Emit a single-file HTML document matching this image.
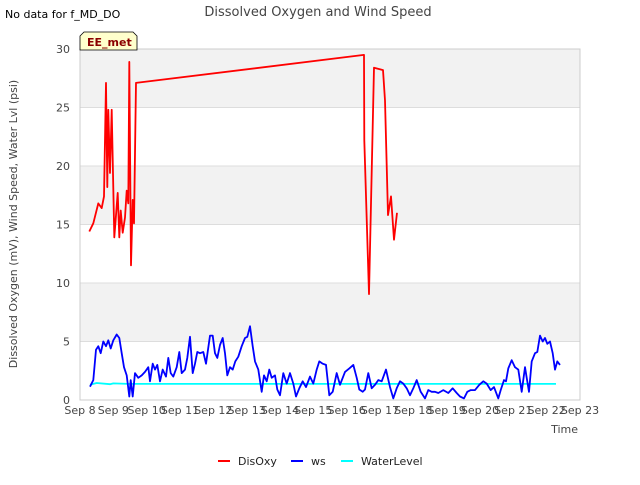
<!DOCTYPE html>
<html><head><meta charset="utf-8"><style>
body{margin:0;background:#fff;}
svg text{font-family:"DejaVu Sans","Liberation Sans",sans-serif;}
</style></head><body>
<svg id="chart" width="640" height="480" xmlns="http://www.w3.org/2000/svg">
<text x="5" y="18" font-size="11" fill="#000">No data for f_MD_DO</text>
<text x="318" y="16" font-size="13" fill="#444" text-anchor="middle">Dissolved Oxygen and Wind Speed</text>
<g id="bands"></g>
<g id="grid"></g>
<rect x="80" y="49" width="500" height="351" fill="none" stroke="#ccc"/>
<g id="yt"></g><g id="xt"></g>
<text transform="translate(17,224) rotate(-90)" font-size="11" fill="#444" text-anchor="middle">Dissolved Oxygen (mV), Wind Speed, Water Lvl (psi)</text>
<text x="578" y="433" font-size="11" fill="#444" text-anchor="end">Time</text>
<g id="series"></g>
<g>
<path d="M80,50 L80,36 L84,32 L133,32 L137,36 L137,50 Z" fill="#ffffcc" stroke="#000" stroke-width="0.8"/>
<text x="87" y="46" font-size="11" font-weight="bold" fill="#8b0000">EE_met</text>
</g>
<g>
<g><line x1="218" y1="461" x2="230" y2="461" stroke="#f00" stroke-width="2"/><text x="238" y="465" font-size="11" fill="#222">DisOxy</text></g>
<g><line x1="291" y1="461" x2="303" y2="461" stroke="#00f" stroke-width="2"/><text x="311" y="465" font-size="11" fill="#222">ws</text></g>
<g><line x1="341" y1="461" x2="353" y2="461" stroke="#0ff" stroke-width="2"/><text x="361" y="465" font-size="11" fill="#222">WaterLevel</text></g>
</g>
</svg>
<script>
const xTickLabels=["Sep 8","Sep 9","Sep 10","Sep 11","Sep 12","Sep 13","Sep 14","Sep 15","Sep 16","Sep 17","Sep 18","Sep 19","Sep 20","Sep 21","Sep 22","Sep 23"];
const yTicks=[0,5,10,15,20,25,30];
const doDays=[0.28,0.4,0.55,0.65,0.72,0.78,0.82,0.85,0.9,0.95,1.03,1.13,1.18,1.22,1.28,1.35,1.4,1.45,1.48,1.53,1.58,1.62,1.68,8.52,8.53,8.67,8.82,9.09,9.15,9.24,9.33,9.42,9.51];
const doVals=[14.4,15.1,16.8,16.4,17.4,27.1,18.2,24.8,19.4,24.8,13.9,17.7,13.9,16.2,14.3,15.6,17.9,16.8,28.9,11.5,17.1,15.1,27.1,29.5,22.2,9.05,28.4,28.2,25.6,15.8,17.4,13.7,16.0];
const wsDays=[0.30,0.40,0.48,0.55,0.62,0.70,0.78,0.85,0.92,1.00,1.10,1.18,1.25,1.32,1.40,1.48,1.52,1.58,1.65,1.75,1.85,1.95,2.05,2.10,2.18,2.25,2.32,2.40,2.48,2.58,2.65,2.72,2.80,2.90,2.98,3.05,3.15,3.22,3.30,3.38,3.45,3.52,3.60,3.70,3.78,3.90,3.98,4.05,4.12,4.20,4.28,4.35,4.42,4.50,4.58,4.66,4.75,4.85,4.95,5.02,5.10,5.18,5.25,5.35,5.45,5.52,5.60,5.68,5.75,5.85,5.92,6.00,6.10,6.20,6.30,6.40,6.48,6.58,6.68,6.78,6.90,7.00,7.10,7.18,7.28,7.38,7.48,7.58,7.70,7.80,7.95,8.08,8.20,8.30,8.38,8.48,8.55,8.65,8.75,8.85,8.95,9.05,9.18,9.30,9.40,9.50,9.60,9.70,9.80,9.90,10.00,10.10,10.22,10.35,10.45,10.55,10.65,10.75,10.90,11.05,11.18,11.30,11.40,11.52,11.62,11.72,11.85,11.98,12.10,12.20,12.32,12.42,12.55,12.62,12.72,12.78,12.85,12.95,13.05,13.15,13.25,13.35,13.40,13.47,13.55,13.65,13.72,13.80,13.88,13.95,14.02,14.10,14.18,14.25,14.32,14.40,14.45,14.50];
const wsVals=[1.14,1.7,4.3,4.6,4.0,5.0,4.6,5.1,4.4,5.1,5.6,5.3,4.0,2.8,2.1,0.3,1.7,0.3,2.3,1.9,2.1,2.4,2.8,1.6,3.1,2.6,3.0,1.6,2.6,2.0,3.6,2.3,2.0,2.8,4.1,2.3,2.6,3.6,5.4,2.3,3.1,4.1,4.0,4.1,3.1,5.5,5.5,4.0,3.6,4.7,5.3,4.0,2.1,2.8,2.6,3.3,3.7,4.6,5.3,5.4,6.3,4.6,3.3,2.6,0.7,2.1,1.6,2.6,1.9,2.1,0.9,0.4,2.3,1.4,2.3,1.4,0.3,1.0,1.6,1.1,2.0,1.4,2.6,3.3,3.1,3.0,0.4,0.7,2.3,1.3,2.4,2.7,3.0,1.9,0.9,0.7,0.9,2.3,1.0,1.3,1.7,1.6,2.6,1.1,0.14,1.0,1.6,1.4,1.0,0.4,1.0,1.7,0.7,0.14,0.85,0.7,0.7,0.6,0.85,0.6,1.0,0.6,0.3,0.14,0.7,0.85,0.85,1.3,1.6,1.4,0.85,1.1,0.14,0.85,1.7,1.6,2.7,3.4,2.8,2.6,0.7,2.8,1.9,0.7,3.3,4.0,4.1,5.5,5.0,5.3,4.8,5.0,4.0,2.6,3.3,3.0];
const wlDays=[0.3,0.5,0.9,1.0,1.5,3.0,6.0,9.0,12.0,14.28];
const wlVals=[1.3,1.45,1.35,1.42,1.38,1.38,1.38,1.38,1.38,1.38];
const X0=80,X1=580,Y0=400,Y1=49,NS="http://www.w3.org/2000/svg";
const xs=d=>X0+(X1-X0)*d/15, ys=v=>Y0-(Y0-Y1)*v/30;
function mk(t,a,p){const e=document.createElementNS(NS,t);for(const k in a)e.setAttribute(k,a[k]);p.appendChild(e);return e;}
const bands=document.getElementById('bands'),grid=document.getElementById('grid'),yt=document.getElementById('yt'),xt=document.getElementById('xt'),ser=document.getElementById('series');
for(let i=0;i<yTicks.length-1;i++){if(i%2===1){const r=mk('rect',{x:X0,y:ys(yTicks[i+1]),width:X1-X0,height:ys(yTicks[i])-ys(yTicks[i+1]),fill:'#f2f2f2'},bands);

}}
yTicks.forEach(v=>{const l=mk('line',{x1:X0,x2:X1,y1:ys(v),y2:ys(v),stroke:'#ddd'},grid);


const t=mk('text',{x:X0-10,y:ys(v)+4,'font-size':11,fill:'#444','text-anchor':'end'},yt);t.textContent=v;

});
xTickLabels.forEach((s,i)=>{const t=mk('text',{x:xs(i),y:414,'font-size':11,fill:'#444','text-anchor':'middle'},xt);t.textContent=s;

});
function line(d,v,c,name){const p=mk('polyline',{points:d.map((x,i)=>xs(x).toFixed(1)+','+ys(v[i]).toFixed(1)).join(' '),fill:'none',stroke:c,'stroke-width':1.8,'stroke-linejoin':'round'},ser);

}
line(wlDays,wlVals,'#00ffff','waterlevel-line');
line(wsDays,wsVals,'#0000ff','ws-line');
line(doDays,doVals,'#ff0000','disoxy-line');
</script>
</body></html>
